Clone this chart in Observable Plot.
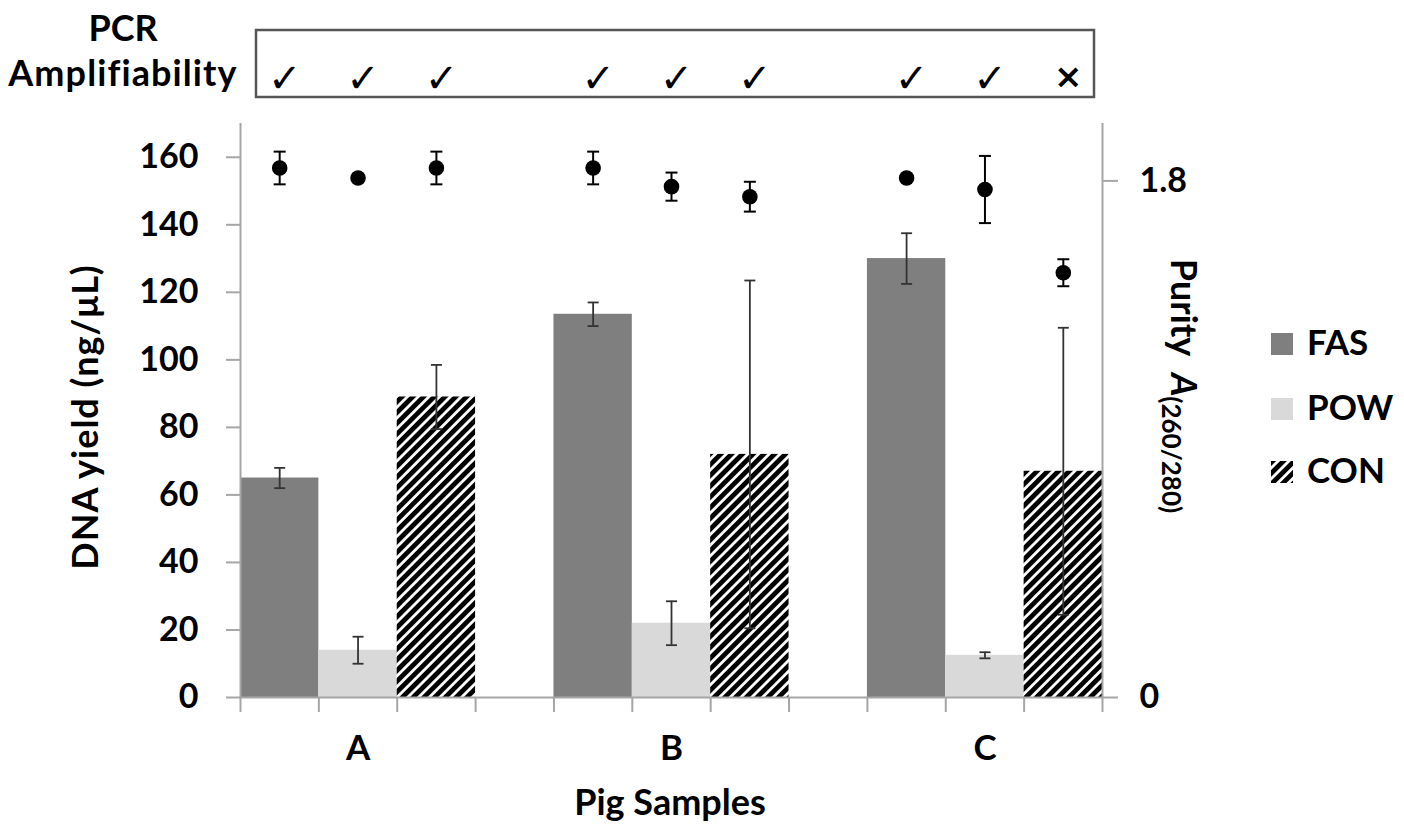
<!DOCTYPE html>
<html>
<head>
<meta charset="utf-8">
<script src="https://cdn.jsdelivr.net/npm/d3@7"></script>
<script src="https://cdn.jsdelivr.net/npm/@observablehq/plot@0.6"></script>
<style>
  html, body { margin: 0; padding: 0; background: #fff; }
  #chart { position: relative; width: 1404px; height: 826px; overflow: hidden; }
</style>
</head>
<body>
<div id="chart"></div>
<script>
// ---- data ----
const samples = ["A", "B", "C"];
const methods = ["FAS", "POW", "CON"];

// DNA yield (ng/µL), mean and error, per sample A, B, C
const yieldFAS = [65, 113.5, 130];
const yieldPOW = [14, 22, 12.5];
const yieldCON = [89, 72, 67];
const yieldErrFAS = [3, 3.5, 7.5];
const yieldErrPOW = [4, 6.5, 0.9];
const yieldErrCON = [9.5, 51.5, 42.5];

// Purity A(260/280), mean and error
const purityFAS = [1.845, 1.845, 1.81];
const purityPOW = [1.81, 1.78, 1.77];
const purityCON = [1.845, 1.745, 1.48];
const purityErrFAS = [0.057, 0.057, 0];
const purityErrPOW = [0, 0.049, 0.117];
const purityErrCON = [0.057, 0.052, 0.047];

// PCR amplifiability
const pcrFAS = [true, true, true];
const pcrPOW = [true, true, true];
const pcrCON = [true, true, false];

// axis ticks
const yieldTicks = [0, 20, 40, 60, 80, 100, 120, 140, 160];
const purityTicks = [0, 1.8];
const yieldMax = 170;
const purityMax = 2.0;

// ---- build table ----
const yields = [yieldFAS, yieldPOW, yieldCON];
const yieldErrs = [yieldErrFAS, yieldErrPOW, yieldErrCON];
const purities = [purityFAS, purityPOW, purityCON];
const purityErrs = [purityErrFAS, purityErrPOW, purityErrCON];
const pcrs = [pcrFAS, pcrPOW, pcrCON];
const slotsPerGroup = methods.length + 1;
const nSlots = samples.length * slotsPerGroup - 1;
const k = yieldMax / purityMax; // purity -> left-axis units

const rows = samples.flatMap((s, g) => methods.map((m, i) => ({
  sample: s, method: m,
  slot: g * slotsPerGroup + i,
  center: g * slotsPerGroup + i + 0.5,
  yield: yields[i][g], yErr: yieldErrs[i][g],
  purity: purities[i][g] * k, pErr: purityErrs[i][g] * k,
  pcr: pcrs[i][g]
})));

const fills = {FAS: "#7f7f7f", POW: "#d9d9d9", CON: "url(#hatch)"};
const axisGray = "#a6a6a6";
const errColor = "#333";
const font = "Lato, 'DejaVu Sans', sans-serif";

const cap = {draw(ctx, size) { const r = Math.sqrt(size / Math.PI); ctx.moveTo(-r, 0); ctx.lineTo(r, 0); }};

const barMarks = methods.map(m => Plot.rect(rows.filter(d => d.method === m), {
  x1: "slot", x2: d => d.slot + 1, y1: 0, y2: "yield", fill: fills[m]
}));

const svg = Plot.plot({
  width: 1404, height: 826,
  marginLeft: 240, marginRight: 302, marginTop: 123, marginBottom: 129,
  x: {domain: [0, nSlots]},
  y: {domain: [0, yieldMax]},
  style: {fontFamily: font, fontSize: "34px", fontWeight: "bold", color: "#000", background: "#fff", overflow: "visible"},
  marks: [
    ...barMarks,
    // yield error bars
    Plot.ruleX(rows.filter(d => d.yErr > 0), {x: "center", y1: d => d.yield - d.yErr, y2: d => d.yield + d.yErr, stroke: errColor, strokeWidth: 1.8}),
    Plot.dot(rows.filter(d => d.yErr > 0), {x: "center", y: d => d.yield + d.yErr, symbol: cap, r: 5.5, stroke: errColor, strokeWidth: 1.8, fill: "none"}),
    Plot.dot(rows.filter(d => d.yErr > 0), {x: "center", y: d => d.yield - d.yErr, symbol: cap, r: 5.5, stroke: errColor, strokeWidth: 1.8, fill: "none"}),
    // axis lines
    Plot.ruleX([0], {y1: 0, y2: yieldMax, stroke: axisGray, strokeWidth: 2}),
    Plot.ruleX([nSlots], {y1: 0, y2: yieldMax, stroke: axisGray, strokeWidth: 2}),
    Plot.ruleY([0], {x1: 0, x2: nSlots, stroke: axisGray, strokeWidth: 2}),
    // purity error bars + points
    Plot.ruleX(rows.filter(d => d.pErr > 0), {x: "center", y1: d => d.purity - d.pErr, y2: d => d.purity + d.pErr, stroke: "#000", strokeWidth: 2}),
    Plot.dot(rows.filter(d => d.pErr > 0), {x: "center", y: d => d.purity + d.pErr, symbol: cap, r: 6, stroke: "#000", strokeWidth: 2, fill: "none"}),
    Plot.dot(rows.filter(d => d.pErr > 0), {x: "center", y: d => d.purity - d.pErr, symbol: cap, r: 6, stroke: "#000", strokeWidth: 2, fill: "none"}),
    Plot.dot(rows, {x: "center", y: "purity", r: 7.8, fill: "#000"}),
    // axes
    Plot.axisY({ticks: yieldTicks, tickSize: 14, tickPadding: 28, stroke: axisGray, strokeWidth: 2, label: null, fontSize: 34, fontWeight: "bold"}),
    Plot.axisY({anchor: "right", ticks: purityTicks.map(p => p * k), tickSize: 15, tickPadding: 22,
      tickFormat: d => d === 0 ? "0" : d3.format(".1f")(d / k), stroke: axisGray, strokeWidth: 2, label: null, fontSize: 34, fontWeight: "bold", letterSpacing: 1}),
    Plot.axisX({ticks: d3.range(0, nSlots + 1), tickSize: 15, tickFormat: () => "", stroke: axisGray, strokeWidth: 2, label: null}),
    Plot.axisX({ticks: samples.map((s, g) => g * slotsPerGroup + 1.5), tickSize: 0, tickPadding: 38,
      tickFormat: d => samples[Math.round((d - 1.5) / slotsPerGroup)], label: null, fontSize: 35, fontWeight: "bold"}),
    // PCR marks
    Plot.text(rows, {x: "center", text: d => d.pcr ? "✓" : "×", frameAnchor: "top", dy: -60, dx: 5,
      fontSize: d => d.pcr ? 40 : 34, fontFamily: "'DejaVu Sans', sans-serif", fontWeight: "bold"})
  ]
});

document.getElementById("chart").appendChild(svg);

// ---- decorations ----
const s = d3.select(svg);
const defs = s.insert("defs", ":first-child");
const pat = defs.append("pattern").attr("id", "hatch").attr("patternUnits", "userSpaceOnUse")
  .attr("width", 7.6).attr("height", 7.6).attr("patternTransform", "rotate(45)");
pat.append("rect").attr("width", 7.6).attr("height", 7.6).attr("fill", "#fff");
pat.append("rect").attr("width", 4.8).attr("height", 7.6).attr("fill", "#000");

const g = s.append("g").attr("font-family", font).attr("font-weight", "bold").attr("font-size", 36)
  .attr("fill", "#000").attr("text-anchor", "start");

// PCR box
g.append("rect").attr("x", 256).attr("y", 30).attr("width", 838).attr("height", 67)
  .attr("fill", "none").attr("stroke", "#555").attr("stroke-width", 2.5);
g.append("text").attr("x", 123).attr("y", 41).attr("text-anchor", "middle").text("PCR");
g.append("text").attr("x", 123).attr("y", 86).attr("text-anchor", "middle").attr("letter-spacing", 1.1).text("Amplifiability");

// left axis title
g.append("text").attr("transform", "translate(98,417) rotate(-90)").attr("text-anchor", "middle")
  .attr("letter-spacing", 1).text("DNA yield (ng/μL)");
// right axis title
const rt = g.append("text").attr("transform", "translate(1171,386) rotate(90)").attr("text-anchor", "middle");
rt.append("tspan").text("Purity  ");
rt.append("tspan").attr("font-style", "italic").text("A");
rt.append("tspan").attr("font-size", 26).attr("dy", 9).text("(260/280)");
// x title
g.append("text").attr("x", 670).attr("y", 815).attr("text-anchor", "middle").text("Pig Samples");

// legend
const legY = [333, 398, 461];
methods.forEach((m, i) => {
  g.append("rect").attr("x", 1271).attr("y", legY[i]).attr("width", 22).attr("height", 22).attr("fill", fills[m]);
  g.append("text").attr("x", 1307).attr("y", legY[i] + 22).attr("font-size", 35).text(m);
});
</script>
</body>
</html>
